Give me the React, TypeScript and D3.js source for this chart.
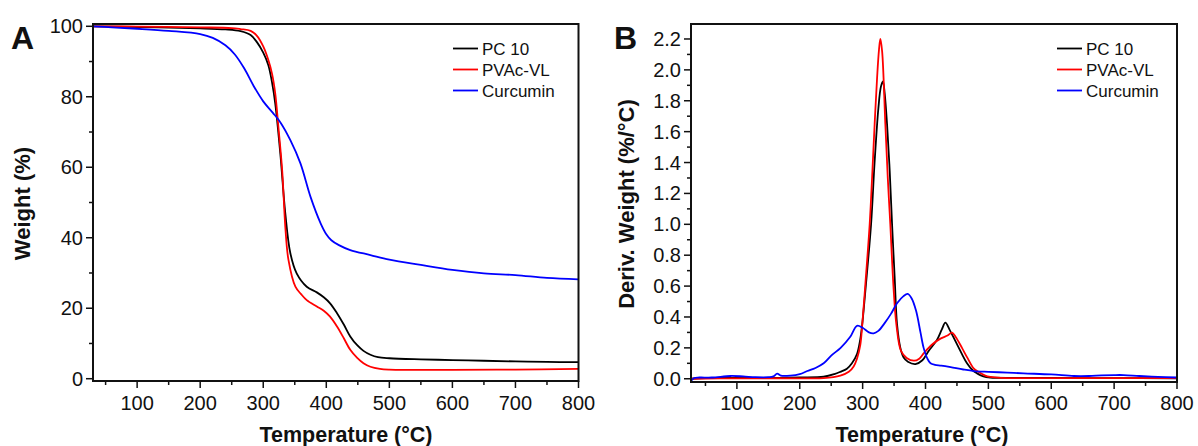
import React from "react";
import * as d3 from "d3";

// ---------- DATA ----------
const legendNames = ["PC 10", "PVAc-VL", "Curcumin"];
const seriesColors = ["#000000", "#ff0000", "#0000ff"];

const xTicks = [100, 200, 300, 400, 500, 600, 700, 800];
const xMinorTicks = [50, 150, 250, 350, 450, 550, 650, 750];
const yTicksA = [0, 20, 40, 60, 80, 100];
const yMinorTicksA = [10, 30, 50, 70, 90];
const yTicksB = [0, 0.2, 0.4, 0.6, 0.8, 1.0, 1.2, 1.4, 1.6, 1.8, 2.0, 2.2];
const yMinorTicksB = [0.1, 0.3, 0.5, 0.7, 0.9, 1.1, 1.3, 1.5, 1.7, 1.9, 2.1];

// TGA (weight %) vs temperature
const tgaPC10: [number, number][] = [
  [30, 100], [100, 99.8], [150, 99.6], [200, 99.4], [240, 99.1], [264, 98.6], [280, 97.5],
  [290, 95.5], [300, 92.5], [308, 89], [314, 84], [319, 78.1], [327, 64], [335, 46.9],
  [343, 35.6], [353, 29.9], [369, 26.1], [385, 24.5], [396, 23.1], [406, 21.4], [417, 18.6],
  [428, 15.3], [438, 12.0], [449, 9.5], [459, 7.9], [470, 6.8], [482, 6.1], [500, 5.8],
  [550, 5.5], [600, 5.3], [650, 5.1], [700, 4.9], [750, 4.75], [800, 4.7],
];
const tgaPVAc: [number, number][] = [
  [30, 100], [100, 99.9], [200, 99.7], [250, 99.5], [264, 99.2], [280, 98.7], [290, 97.3],
  [300, 94.3], [308, 90.5], [314, 86.5], [319, 81], [324, 71.5], [330, 59.2], [335, 43.1],
  [340, 33.7], [351, 26.1], [360, 24], [369, 22.3], [385, 20.5], [396, 19.3], [406, 17.6],
  [417, 14.8], [428, 11.4], [438, 8.2], [449, 5.9], [459, 4.4], [470, 3.4], [485, 2.8],
  [500, 2.6], [600, 2.5], [700, 2.6], [800, 2.8],
];
const tgaCurcumin: [number, number][] = [
  [30, 100], [60, 99.7], [100, 99.3], [150, 98.7], [200, 97.8], [220, 96.7], [240, 94.6],
  [255, 92], [270, 88], [285, 83], [300, 78.7], [315, 75.5], [327, 72.8], [343, 67.7],
  [359, 61.1], [375, 51.6], [391, 44.1], [400, 41], [408, 39.3], [420, 37.9], [438, 36.5],
  [470, 35.1], [500, 33.8], [550, 32.3], [600, 30.9], [650, 29.9], [700, 29.4], [750, 28.6],
  [800, 28.2],
];

// DTG (deriv. weight %/°C) vs temperature
const dtgPC10: [number, number][] = [
  [27, 0.0], [50, 0.005], [100, 0.005], [150, 0.005], [200, 0.008], [238, 0.013], [255, 0.03],
  [264.5, 0.045], [275, 0.065], [283, 0.1], [291, 0.16], [296, 0.25], [299, 0.34], [305, 0.6],
  [313.4, 1.0], [319, 1.4], [325, 1.75], [329, 1.89], [332.3, 1.926], [335, 1.85], [338.8, 1.65],
  [343, 1.35], [346.8, 1.0], [351, 0.65], [354.7, 0.354], [360, 0.2], [365, 0.139], [372, 0.11],
  [384, 0.095], [395, 0.12], [405, 0.18], [418, 0.25], [426, 0.32], [431.6, 0.363], [438, 0.32],
  [448, 0.24], [458, 0.16], [466, 0.1], [475, 0.055], [482, 0.035], [492, 0.015], [503, 0.008],
  [550, 0.006], [600, 0.005], [700, 0.004], [800, 0.003],
];
const dtgPVAc: [number, number][] = [
  [27, 0.0], [100, 0.003], [200, 0.003], [238, 0.004], [264.5, 0.02], [278, 0.045], [285.7, 0.08],
  [291, 0.13], [296.3, 0.22], [299, 0.33], [305, 0.65], [311.2, 1.0], [315, 1.3], [319.1, 1.65],
  [323, 1.95], [326, 2.13], [328.2, 2.2], [331, 2.12], [336.1, 1.65], [340, 1.3], [344, 1.0],
  [349, 0.6], [353.6, 0.354], [361, 0.18], [370, 0.135], [381.6, 0.117], [390, 0.13], [397, 0.164],
  [410, 0.22], [423.8, 0.26], [435, 0.28], [442.2, 0.298], [448, 0.27], [458, 0.2], [466, 0.14],
  [476.6, 0.067], [484, 0.045], [495, 0.02], [503, 0.012], [520, 0.006], [600, 0.004],
  [700, 0.004], [800, 0.005],
];
const dtgCurcumin: [number, number][] = [
  [27, -0.015], [32, 0.005], [40, 0.008], [60, 0.008], [90, 0.018], [110, 0.015], [130, 0.01],
  [150, 0.01], [158, 0.015], [164, 0.033], [170, 0.02], [185, 0.02], [200, 0.03], [212, 0.05],
  [225, 0.07], [238, 0.1], [250, 0.15], [265, 0.2], [280, 0.27], [291, 0.343], [300, 0.33],
  [310, 0.3], [317.5, 0.294], [325, 0.31], [335, 0.36], [345, 0.42], [355, 0.49], [365, 0.535],
  [371.6, 0.549], [378, 0.52], [385, 0.44], [392, 0.3], [397, 0.2], [403, 0.13], [408, 0.1],
  [415, 0.09], [425, 0.085], [440, 0.075], [460, 0.06], [477, 0.05], [500, 0.045], [530, 0.04],
  [556, 0.035], [600, 0.028], [636, 0.018], [660, 0.018], [680, 0.022], [700, 0.024],
  [715, 0.024], [740, 0.018], [770, 0.012], [800, 0.008],
];

const FONT = "'Liberation Sans', Arial, sans-serif";

type PanelProps = {
  letter: string;
  letterX: number;
  left: number;
  right: number;
  top: number;
  bottom: number;
  xDomain: [number, number];
  yDomain: [number, number];
  yTicks: number[];
  yMinor: number[];
  yFormat: (v: number) => string;
  yTitle: string;
  yTitleX: number;
  xTitleX: number;
  series: [number, number][][];
  legendX: number;
};

function Panel(p: PanelProps) {
  const x = d3.scaleLinear().domain(p.xDomain).range([p.left, p.right]);
  const y = d3.scaleLinear().domain(p.yDomain).range([p.bottom, p.top]);
  const line = d3
    .line<[number, number]>()
    .x((d) => x(d[0]))
    .y((d) => y(d[1]))
    .curve(d3.curveCatmullRom.alpha(0.5));
  const midY = (p.top + p.bottom) / 2 + 1;
  return (
    <g>
      <defs>
        <clipPath id={"clip" + p.letter}>
          <rect x={p.left} y={p.top} width={p.right - p.left} height={p.bottom - p.top} />
        </clipPath>
      </defs>
      <g clipPath={`url(#clip${p.letter})`}>
        {p.series.map((s, i) => (
          <path key={i} d={line(s) || ""} fill="none" stroke={seriesColors[i]} strokeWidth={1.8} />
        ))}
      </g>
      <rect
        x={p.left}
        y={p.top}
        width={p.right - p.left}
        height={p.bottom - p.top}
        fill="none"
        stroke="#111"
        strokeWidth={2}
      />
      {xTicks.map((t) => (
        <g key={"xt" + t}>
          <line x1={x(t)} x2={x(t)} y1={p.bottom} y2={p.bottom + 7} stroke="#111" strokeWidth={1.5} />
          <text x={x(t)} y={410} textAnchor="middle" fontSize={20} fontFamily={FONT} fill="#111">
            {t}
          </text>
        </g>
      ))}
      {xMinorTicks.map((t) => (
        <line key={"xm" + t} x1={x(t)} x2={x(t)} y1={p.bottom} y2={p.bottom + 4} stroke="#111" strokeWidth={1.5} />
      ))}
      {p.yTicks.map((t) => (
        <g key={"yt" + t}>
          <line x1={p.left - 7} x2={p.left} y1={y(t)} y2={y(t)} stroke="#111" strokeWidth={1.5} />
          <text
            x={p.left - 10}
            y={y(t)}
            dy="0.35em"
            textAnchor="end"
            fontSize={20}
            fontFamily={FONT}
            fill="#111"
          >
            {p.yFormat(t)}
          </text>
        </g>
      ))}
      {p.yMinor.map((t) => (
        <line key={"ym" + t} x1={p.left - 4} x2={p.left} y1={y(t)} y2={y(t)} stroke="#111" strokeWidth={1.5} />
      ))}
      <text
        x={p.xTitleX}
        y={442}
        textAnchor="middle"
        fontSize={21.5}
        fontWeight="bold"
        fontFamily={FONT}
        fill="#111"
      >
        Temperature (°C)
      </text>
      <text
        transform={`translate(${p.yTitleX},${midY}) rotate(-90)`}
        textAnchor="middle"
        fontSize={22}
        fontWeight="bold"
        fontFamily={FONT}
        fill="#111"
      >
        {p.yTitle}
      </text>
      <text x={p.letterX} y={49} fontSize={32} fontWeight="bold" fontFamily={FONT} fill="#111">
        {p.letter}
      </text>
      {legendNames.map((n, i) => {
        const cy = 48.5 + i * 21;
        return (
          <g key={n}>
            <line x1={p.legendX} x2={p.legendX + 25} y1={cy} y2={cy} stroke={seriesColors[i]} strokeWidth={1.8} />
            <text x={p.legendX + 29} y={cy + 6} fontSize={17} fontFamily={FONT} fill="#111">
              {n}
            </text>
          </g>
        );
      })}
    </g>
  );
}

export default function App() {
  return (
    <svg
      width={1198}
      height={446}
      style={{ position: "absolute", left: 0, top: 0, background: "#fff" }}
    >
      <Panel
        letter="A"
        letterX={11}
        left={93}
        right={578.5}
        top={24}
        bottom={381}
        xDomain={[30, 800]}
        yDomain={[-0.65, 100.65]}
        yTicks={yTicksA}
        yMinor={yMinorTicksA}
        yFormat={(v) => String(v)}
        yTitle="Weight (%)"
        yTitleX={30}
        xTitleX={346}
        series={[tgaPC10, tgaPVAc, tgaCurcumin]}
        legendX={453}
      />
      <Panel
        letter="B"
        letterX={614}
        left={691}
        right={1177}
        top={24}
        bottom={382}
        xDomain={[27, 800]}
        yDomain={[-0.021, 2.297]}
        yTicks={yTicksB}
        yMinor={yMinorTicksB}
        yFormat={(v) => v.toFixed(1)}
        yTitle="Deriv. Weight (%/°C)"
        yTitleX={634}
        xTitleX={922}
        series={[dtgPC10, dtgPVAc, dtgCurcumin]}
        legendX={1057}
      />
    </svg>
  );
}
